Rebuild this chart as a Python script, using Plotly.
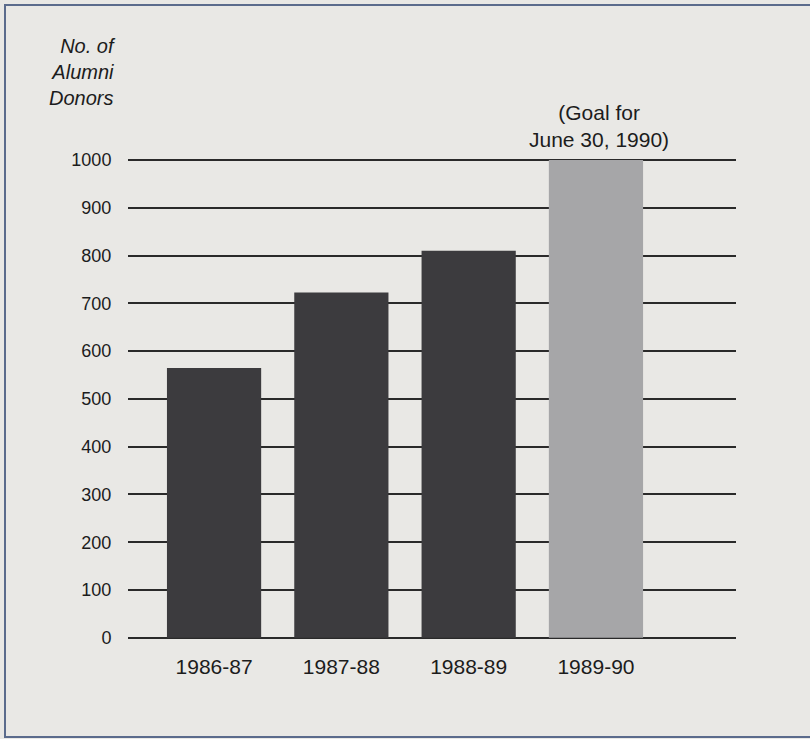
import plotly.graph_objects as go

categories = ["1986-87", "1987-88", "1988-89", "1989-90"]
donors = [565, 723, 810, 1000]
bar_colors = ["#3c3b3e", "#3c3b3e", "#3c3b3e", "#a6a6a8"]
tick_values = [0, 100, 200, 300, 400, 500, 600, 700, 800, 900, 1000]
tick_labels = [str(v) for v in tick_values]
y_title = "No. of<br>Alumni<br>Donors"
goal_note = "(Goal for<br>June 30, 1990)"

FONT = "Liberation Sans, Arial, Helvetica, sans-serif"
BG = "#e9e8e5"
GRID = "#2a2a2a"

fig = go.Figure()
fig.add_trace(go.Bar(
    x=categories,
    y=donors,
    width=0.74,
    marker=dict(color=bar_colors, line=dict(width=0)),
    showlegend=False,
))

L, R, T, B = 128, 74, 98, 101
plot_w = 810 - L - R
plot_h = 739 - T - B

fig.update_layout(
    width=810, height=739,
    margin=dict(l=L, r=R, t=T, b=B),
    paper_bgcolor=BG, plot_bgcolor=BG,
    font=dict(family=FONT, size=18, color="#1c1c1c"),
    bargap=0.26,
    xaxis=dict(
        type="category",
        range=[-0.676, 4.10],
        showgrid=False, zeroline=False, showline=False,
        ticks="outside", ticklen=10, tickcolor=BG,
        tickfont=dict(size=21),
        fixedrange=True,
    ),
    yaxis=dict(
        range=[-0.5, 1130],
        tickvals=tick_values, ticktext=tick_labels,
        showgrid=True, gridcolor=GRID, gridwidth=1.5,
        zeroline=True, zerolinecolor=GRID, zerolinewidth=1.5,
        showline=False,
        ticks="outside", ticklen=12, tickcolor=BG,
        tickfont=dict(size=18),
        fixedrange=True,
    ),
)

# Y-axis title (italic, right-aligned, above the axis)
fig.add_annotation(
    text="<i>" + y_title + "</i>",
    xref="paper", yref="paper",
    x=(118 - L) / plot_w, y=1 + (T - 72) / plot_h,
    xanchor="right", yanchor="middle", align="right",
    showarrow=False, font=dict(size=20),
)

# Goal annotation above the last bar
fig.add_annotation(
    text=goal_note,
    x=categories[3], y=donors[3],
    xanchor="center", yanchor="bottom", align="center",
    yshift=7, xshift=3,
    showarrow=False, font=dict(size=21),
)

# Frame border around the figure
fig.add_shape(
    type="rect", xref="paper", yref="paper",
    x0=(5 - L) / plot_w, x1=(815 - L) / plot_w,
    y0=-(737 - (T + plot_h)) / plot_h, y1=1 + (T - 5) / plot_h,
    line=dict(color="#5b6b8c", width=2), fillcolor="rgba(0,0,0,0)",
    layer="below",
)

fig.write_html(
    "out.html",
    config={"displayModeBar": False},
    post_script="document.body.style.margin='0';document.body.style.overflow='hidden';",
)
